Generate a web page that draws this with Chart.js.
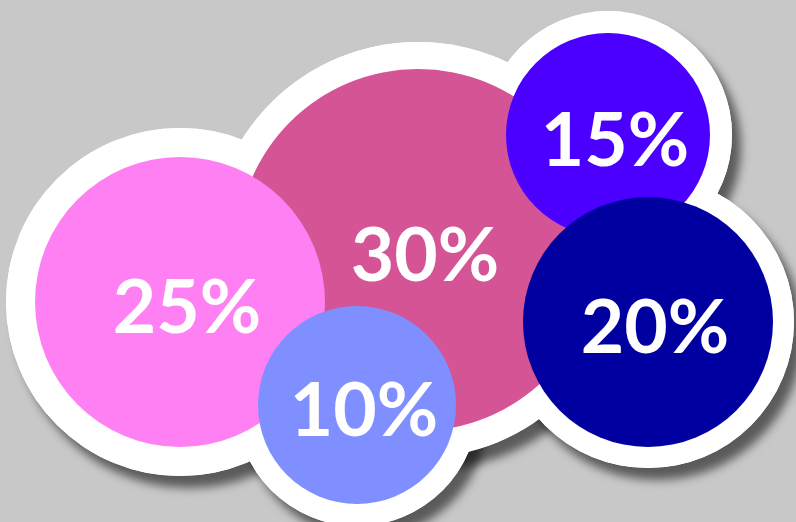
<!DOCTYPE html>
<html>
<head>
<meta charset="utf-8">
<script src="https://cdn.jsdelivr.net/npm/chart.js@4.4.0/dist/chart.umd.min.js"></script>
<style>
  html, body { margin: 0; padding: 0; background: #c8c8c8; }
  #bubbles { display: block; }
</style>
</head>
<body>
<canvas id="bubbles" width="796" height="522"></canvas>
<script>
// share labels, drawn back to front
const shares = ["30%", "25%", "10%", "15%", "20%"];
const xValues = [418, 180, 357, 608, 648];
const yValues = [250, 302, 405, 135, 322];
const rValues = [181, 145, 99, 102, 125];
const haloWidth = [27, 29, 22, 22, 21];
const fills = ["#d55495", "#ff80f3", "#7f8fff", "#4b00ff", "#0000a0"];

const points = shares.map((s, i) => ({ x: xValues[i], y: yValues[i], r: rValues[i] }));
const haloPoints = points.map((p, i) => ({ x: p.x, y: p.y, r: p.r + haloWidth[i] }));

// chart.js paints the last dataset first, so the shadowed halo is index 2
const SHADOW_SET = 2;
const shadowPlugin = {
  id: "shadow",
  beforeDatasetDraw(chart, args) {
    if (args.index !== SHADOW_SET) return;
    const ctx = chart.ctx;
    ctx.save();
    ctx.shadowColor = "rgba(0,0,0,0.55)";
    ctx.shadowBlur = 10;
    ctx.shadowOffsetX = 9;
    ctx.shadowOffsetY = 12;
  },
  afterDatasetDraw(chart, args) {
    if (args.index === SHADOW_SET) chart.ctx.restore();
  },
};

const labelPlugin = {
  id: "shareLabels",
  afterDatasetsDraw(chart) {
    const ctx = chart.ctx;
    const meta = chart.getDatasetMeta(0);
    ctx.save();
    ctx.fillStyle = "#ffffff";
    ctx.font = "bold 75px Lato";
    ctx.textAlign = "center";
    ctx.textBaseline = "middle";
    meta.data.forEach((el, i) => {
      ctx.fillText(shares[i], el.x + 7, el.y + 7);
    });
    ctx.restore();
  },
};

new Chart(document.getElementById("bubbles").getContext("2d"), {
  type: "bubble",
  data: {
    datasets: [
      { data: points, backgroundColor: fills, borderWidth: 0, clip: false },
      { data: haloPoints, backgroundColor: "#ffffff", borderWidth: 0, clip: false },
      { data: haloPoints, backgroundColor: "#ffffff", borderWidth: 0, clip: false },
    ],
  },
  options: {
    responsive: false,
    animation: false,
    devicePixelRatio: 1,
    layout: { padding: 0, autoPadding: false },
    events: [],
    plugins: { legend: { display: false }, tooltip: { enabled: false } },
    scales: {
      x: { type: "linear", min: 0, max: 796, display: false },
      y: { type: "linear", min: 0, max: 522, reverse: true, display: false },
    },
  },
  plugins: [shadowPlugin, labelPlugin],
});
</script>
</body>
</html>
